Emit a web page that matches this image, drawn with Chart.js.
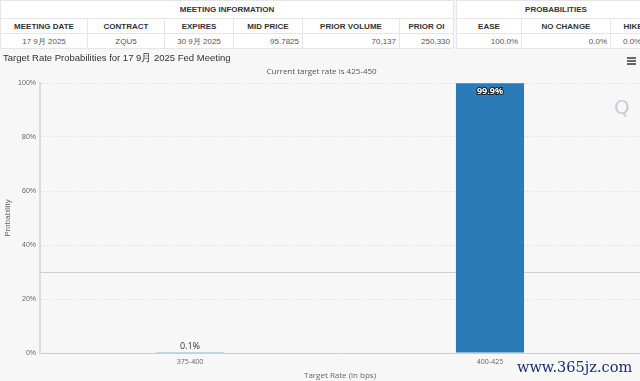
<!DOCTYPE html>
<html>
<head>
<meta charset="utf-8">
<script src="https://cdn.jsdelivr.net/npm/chart.js@4.4.0/dist/chart.umd.min.js"></script>
<style>
  html, body { margin: 0; padding: 0; background: #f7f7f7; width: 640px; height: 381px; overflow: hidden; font-family: Arial, "Liberation Sans", sans-serif; }
  .info { position: absolute; top: 0; border-collapse: collapse; background: #fff; font-size: 8px; color: #444; }
  .info td { border: 1px solid #e6e6e6; padding: 0 3px; height: 14px; white-space: nowrap; }
  .info .grp td { height: 17px; font-weight: bold; text-align: center; color: #333; }
  .info .hd td { font-weight: bold; text-align: center; color: #333; }
  .info .vals td { color: #555; }
  .r { text-align: right; }
  .c { text-align: center; }
  #wrap { position: absolute; left: 0; top: 50px; width: 640px; height: 331px; }
  .menu { position: absolute; left: 627px; top: 57px; width: 9px; }
  .menu span { display: block; height: 1.5px; background: #666; margin-bottom: 1.5px; }
  .q { position: absolute; left: 614px; top: 95px; font: 20px "DejaVu Sans", sans-serif; color: #c9ccd2; }
  .mark { position: absolute; left: 517px; top: 359px; font: 14.5px "DejaVu Serif", "Liberation Serif", serif; color: #1c2f6b; }
</style>
</head>
<body>
<table class="info" style="left:0;width:454px">
  <tr class="grp"><td colspan="6">MEETING INFORMATION</td></tr>
  <tr class="hd"><td style="width:80px">MEETING DATE</td><td style="width:70px">CONTRACT</td><td style="width:62px">EXPIRES</td><td style="width:62px">MID PRICE</td><td style="width:90px">PRIOR VOLUME</td><td>PRIOR OI</td></tr>
  <tr class="vals"><td class="c">17 9月 2025</td><td class="c">ZQU5</td><td class="c">30 9月 2025</td><td class="r">95.7825</td><td class="r">70,137</td><td class="r">250,330</td></tr>
</table>
<table class="info" style="left:456px;width:200px">
  <tr class="grp"><td colspan="3">PROBABILITIES</td></tr>
  <tr class="hd"><td style="width:58px">EASE</td><td style="width:82px">NO CHANGE</td><td>HIKE</td></tr>
  <tr class="vals"><td class="r">100.0%</td><td class="r">0.0%</td><td class="r" style="text-align:left;padding-left:12px">0.0%</td></tr>
</table>
<div id="wrap"><canvas id="chart"></canvas></div>
<div class="menu"><span></span><span></span><span></span></div>
<div class="q">Q</div>
<div class="mark">www.365jz.com</div>
<script>
  const categories = ['375-400', '400-425'];
  const probabilities = [0.1, 99.9];
  const barLabels = ['0.1%', '99.9%'];
  const yTicks = [0, 20, 40, 60, 80, 100];
  const markerLevel = 30;

  // 막대 라벨과 30% 기준선 그리기
  const extras = {
    id: 'extras',
    beforeDatasetsDraw(chart) {
      const { ctx, chartArea, scales } = chart;
      const y = Math.round(scales.y.getPixelForValue(markerLevel)) + 0.5;
      ctx.save();
      ctx.strokeStyle = '#cfcfcf';
      ctx.lineWidth = 1;
      ctx.beginPath();
      ctx.moveTo(chartArea.left, y);
      ctx.lineTo(chartArea.right, y);
      ctx.stroke();
      ctx.restore();
    },
    afterDatasetsDraw(chart) {
      const { ctx } = chart;
      const meta = chart.getDatasetMeta(0);
      ctx.save();
      ctx.textAlign = 'center';
      meta.data.forEach((bar, i) => {
        if (probabilities[i] > 50) {
          ctx.font = 'bold 9px "Open Sans", sans-serif';
          ctx.lineWidth = 2;
          ctx.strokeStyle = '#1a1a1a';
          ctx.fillStyle = '#fff';
          ctx.textBaseline = 'top';
          ctx.strokeText(barLabels[i], bar.x, bar.y + 4);
          ctx.fillText(barLabels[i], bar.x, bar.y + 4);
        } else {
          ctx.font = '9px "Open Sans", sans-serif';
          ctx.fillStyle = '#333';
          ctx.textBaseline = 'bottom';
          ctx.fillText(barLabels[i], bar.x, bar.y - 2);
        }
      });
      ctx.restore();
    }
  };

  new Chart(document.getElementById('chart'), {
    type: 'bar',
    data: {
      labels: categories,
      datasets: [{
        data: probabilities,
        backgroundColor: '#2a7bb8',
        borderWidth: 0,
        categoryPercentage: 1,
        barPercentage: 0.227
      }]
    },
    options: {
      responsive: true,
      maintainAspectRatio: false,
      animation: false,
      layout: { padding: { left: 3, right: 0, top: 0, bottom: 0 } },
      plugins: {
        legend: { display: false },
        tooltip: { enabled: false },
        title: {
          display: true,
          text: 'Target Rate Probabilities for 17 9月 2025 Fed Meeting',
          align: 'start',
          color: '#333',
          font: { family: 'Arial, "Liberation Sans", sans-serif', size: 9.5, weight: 'normal' },
          padding: { top: 3, bottom: 2 }
        },
        subtitle: {
          display: true,
          text: 'Current target rate is 425-450',
          color: '#555',
          font: { family: '"Open Sans", sans-serif', size: 8 },
          padding: { top: 1, bottom: 6 }
        }
      },
      scales: {
        x: {
          grid: { display: false, drawTicks: false },
          border: { color: '#cccccc', width: 1 },
          ticks: { color: '#666', font: { family: '"Open Sans", sans-serif', size: 7 }, padding: 5 },
          title: { display: true, text: 'Target Rate (in bps)', color: '#666', font: { family: '"Open Sans", sans-serif', size: 8 }, padding: { top: 0, bottom: 0 } }
        },
        y: {
          min: 0,
          max: 100,
          afterBuildTicks(scale) { scale.ticks = yTicks.map(v => ({ value: v })); },
          afterFit(scale) { scale.width = 37; },
          grid: { color: '#d8d8d8', drawTicks: false },
          border: { color: '#dcdcdc', width: 2, dash: [1, 2] },
          ticks: { color: '#666', font: { family: 'Arial, sans-serif', size: 7 }, padding: 4, callback: v => v + '%' },
          title: { display: true, text: 'Probability', color: '#666', font: { family: 'Arial, sans-serif', size: 8 }, padding: { top: 0, bottom: 2 } }
        }
      }
    },
    plugins: [extras]
  });
</script>
</body>
</html>
